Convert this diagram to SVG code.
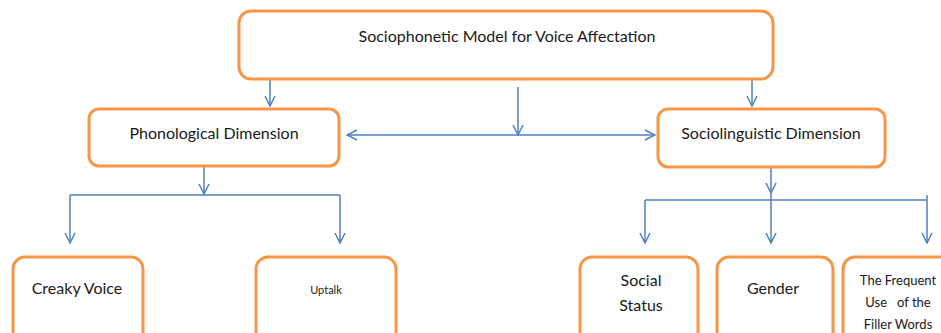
<svg xmlns="http://www.w3.org/2000/svg" width="941" height="333" viewBox="0 0 941 333">
<style>
.box{fill:#fff;stroke:#F79646;stroke-width:3}
.t{font-family:Lato,"Open Sans",sans-serif;font-size:16px;fill:#1a1a1a;text-anchor:middle}
.c{fill:none;stroke:#4F81BD;stroke-width:1.5}
</style>
<defs>
<marker id="a" viewBox="0 0 12 12" refX="11" refY="6" markerWidth="12" markerHeight="12" markerUnits="userSpaceOnUse" orient="auto-start-reverse">
<path d="M1,1 L11,6 L1,11" fill="none" stroke="#4F81BD" stroke-width="1.5"/>
</marker>
</defs>
<rect width="941" height="333" fill="#fff"/>
<g id="connectors">
<path class="c" d="M270,80 V106" marker-end="url(#a)"/>
<path class="c" d="M752,80 V106" marker-end="url(#a)"/>
<path class="c" d="M518,87 V135" marker-end="url(#a)"/>
<path class="c" d="M347,135 H655" marker-start="url(#a)" marker-end="url(#a)"/>
<path class="c" d="M204,167 V194" marker-end="url(#a)"/>
<path class="c" d="M70,195 H340"/>
<path class="c" d="M70,195 V243" marker-end="url(#a)"/>
<path class="c" d="M340,195 V243" marker-end="url(#a)"/>
<path class="c" d="M771,167 V193" marker-end="url(#a)"/>
<path class="c" d="M771,193 V243" marker-end="url(#a)"/>
<path class="c" d="M645,200 H927"/>
<path class="c" d="M645,200 V243" marker-end="url(#a)"/>
<path class="c" d="M927,195 V243" marker-end="url(#a)"/>
</g>
<g id="top">
<rect class="box" x="239" y="11" width="534" height="68" rx="12"/>
<text class="t" x="507" y="42">Sociophonetic Model for Voice Affectation</text>
</g>
<g id="phon">
<rect class="box" x="89" y="109" width="250" height="57" rx="10"/>
<text class="t" x="214" y="139">Phonological Dimension</text>
</g>
<g id="socio">
<rect class="box" x="658" y="109" width="227" height="58" rx="10"/>
<text class="t" x="771" y="139">Sociolinguistic Dimension</text>
</g>
<g id="creaky">
<rect class="box" x="13" y="257" width="130" height="100" rx="12"/>
<text class="t" x="77" y="294">Creaky Voice</text>
</g>
<g id="uptalk">
<rect class="box" x="256" y="257" width="140" height="100" rx="12"/>
<text class="t" x="326" y="294" style="font-size:11px">Uptalk</text>
</g>
<g id="social">
<rect class="box" x="580" y="257" width="118" height="100" rx="12"/>
<text class="t" x="641" y="286">Social</text>
<text class="t" x="641" y="311">Status</text>
</g>
<g id="gender">
<rect class="box" x="717" y="257" width="116" height="100" rx="12"/>
<text class="t" x="773" y="294">Gender</text>
</g>
<g id="filler">
<rect class="box" x="843" y="257" width="120" height="100" rx="12"/>
<text class="t" x="898" y="285" style="font-size:13px">The Frequent</text>
<text class="t" x="898" y="307" style="font-size:13px;white-space:pre" xml:space="preserve">Use   of the</text>
<text class="t" x="898" y="329" style="font-size:13px">Filler Words</text>
</g>
</svg>
